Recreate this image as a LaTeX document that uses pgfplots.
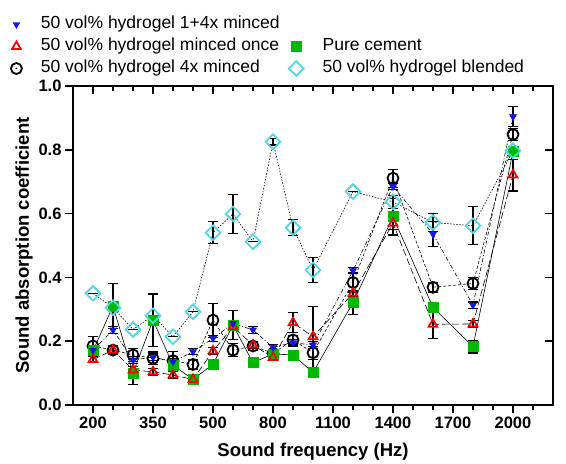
\documentclass[border=0pt]{standalone}
\usepackage{fontspec}
\setmainfont{Liberation Sans}
\usepackage{pgfplots}
\usepackage{pgfplotstable}
\pgfplotsset{compat=1.18}
\definecolor{cblue}{RGB}{20,20,230}
\definecolor{cred}{RGB}{255,0,0}
\definecolor{cgreen}{RGB}{0,185,0}
\definecolor{ccyan}{RGB}{80,215,225}
\pgfdeclareplotmark{odot}{%
  \pgfpathcircle{\pgfpointorigin}{\pgfplotmarksize}\pgfusepathqstroke
  \pgfpathcircle{\pgfpointorigin}{0.18\pgfplotmarksize}\pgfusepathqfill}

% x = index of frequency band (0 = 200 Hz ... 21 = 2000 Hz)
\pgfplotstableread{
x y e
0 0.172 0.01
1 0.235 0.01
2 0.141 0.01
3 0.150 0.01
4 0.136 0.01
5 0.167 0.01
6 0.209 0.01
7 0.256 0.01
8 0.235 0.01
9 0.181 0.01
10 0.195 0.01
11 0.188 0.01
13 0.421 0.01
15 0.685 0.01
17 0.536 0.038
19 0.313 0.01
21 0.904 0.031
}\blueT
\pgfplotstableread{
x y e
0 0.143 0.01
1 0.172 0.01
2 0.110 0.01
3 0.104 0.01
4 0.094 0.01
5 0.080 0.01
6 0.169 0.01
7 0.245 0.01
8 0.188 0.01
9 0.149 0.01
10 0.258 0.032
11 0.214 0.096
13 0.350 0.01
15 0.570 0.02
17 0.253 0.044
19 0.254 0.01
21 0.721 0.05
}\redT
\pgfplotstableread{
x y e
0 0.170 0.01
1 0.310 0.07
2 0.100 0.037
3 0.266 0.082
4 0.125 0.01
5 0.080 0.01
6 0.128 0.01
7 0.250 0.045
8 0.133 0.01
9 0.160 0.01
10 0.157 0.01
11 0.102 0.01
13 0.321 0.036
15 0.590 0.057
17 0.306 0.01
19 0.183 0.02
21 0.795 0.01
}\greenT
\pgfplotstableread{
x y e
0 0.185 0.03
1 0.172 0.015
2 0.157 0.02
3 0.146 0.02
4 0.139 0.028
5 0.127 0.015
6 0.266 0.053
7 0.172 0.02
8 0.185 0.015
9 0.162 0.01
10 0.204 0.015
11 0.164 0.02
13 0.384 0.03
15 0.711 0.028
17 0.369 0.015
19 0.381 0.02
21 0.848 0.02
}\circT
\pgfplotstableread{
x y e
0 0.350 0
1 0.305 0
2 0.237 0
3 0.280 0
4 0.214 0
5 0.292 0
6 0.540 0.035
7 0.599 0.06
8 0.512 0
9 0.825 0.01
10 0.556 0.025
11 0.423 0.04
13 0.669 0
15 0.637 0.02
17 0.572 0.028
19 0.562 0.06
21 0.797 0.01
}\diaT

\begin{document}
\begin{tikzpicture}
\pgfplotsset{
  myaxis/.style={
    at={(73pt,59pt)}, anchor=south west,
    width=480pt, height=319pt, scale only axis,
    xmin=-1, xmax=23, ymin=0, ymax=1,
    xtick={0,3,...,21}, minor xtick={0,...,22},
    ytick={0,0.2,...,1.01},
    major tick length=8pt, minor tick length=5pt,
    axis line style={line width=1.6pt},
    every tick/.style={black, line width=1.6pt},
  },
  eb/.style={error bars/y dir=both, error bars/y explicit,
    error bars/error bar style={black, line width=1.1pt, solid},
    error bars/error mark options={rotate=90, mark size=5pt, black, line width=1.1pt, solid}},
}
\begin{axis}[myaxis,
  xtick pos=left, ytick pos=left, tick align=outside,
  xticklabels={200,350,500,800,1100,1400,1700,2000},
  yticklabel style={/pgf/number format/.cd, fixed, fixed zerofill, precision=1},
  /pgf/number format/assume math mode=true,
  tick label style={font=\bfseries\fontsize{16.5}{19}\selectfont},
  xlabel={Sound frequency (Hz)},
  ylabel={Sound absorption coefficient},
  every axis x label/.style={at={(axis description cs:0.5,-0.147)}, anchor=center,
    font=\bfseries\fontsize{18.5}{22}\selectfont},
  every axis y label/.style={at={(axis description cs:-0.102,0.5)}, rotate=90, anchor=center,
    font=\bfseries\fontsize{18.5}{22}\selectfont},
  legend columns=2,
  legend cell align=left,
  legend style={at={(axis description cs:-0.136,1.231)}, anchor=north west,
    draw=none, fill=none, font=\fontsize{17.5}{20}\selectfont,
    nodes={text height=12pt, text depth=4pt, inner sep=2pt},
    row sep=2pt,
    /tikz/column 1/.style={column sep=17pt},
    /tikz/column 2/.style={column sep=6pt},
    /tikz/column 3/.style={column sep=17pt}},
]
\addplot[black, line width=0.6pt, dash pattern=on 3pt off 2pt, eb,
  mark=odot, mark size=5.5pt, mark options={solid, black, line width=1.8pt}, forget plot]
  table[x=x, y=y, y error=e]{\circT};
\addplot[black, line width=0.6pt, solid, eb,
  mark=square*, mark size=5pt, mark options={solid, cgreen, fill=cgreen}, forget plot]
  table[x=x, y=y, y error=e]{\greenT};
\addplot[black, line width=0.6pt, dash pattern=on 7pt off 3pt, eb,
  mark=triangle, mark size=5pt, mark options={solid, cred, line width=1.8pt}, forget plot]
  table[x=x, y=y, y error=e]{\redT};
\addplot[black, line width=0.6pt, dash pattern=on 4pt off 2pt on 1pt off 2pt, eb,
  mark=triangle*, mark size=4pt, mark options={solid, cblue, fill=cblue, rotate=180}, forget plot]
  table[x=x, y=y, y error=e]{\blueT};
\addplot[black, line width=0.6pt, dash pattern=on 1.5pt off 1.5pt, eb,
  mark=square, mark size=5.2pt, mark options={solid, ccyan, line width=1.8pt, rotate=45}, forget plot]
  table[x=x, y=y, y error=e]{\diaT};

\addlegendimage{only marks, mark=triangle*, mark size=4pt, mark options={cblue, fill=cblue, rotate=180}}
\addlegendentry{50 vol\% hydrogel 1+4x minced}
\addlegendimage{empty legend}
\addlegendentry{}
\addlegendimage{only marks, mark=triangle, mark size=5pt, mark options={cred, line width=1.8pt}}
\addlegendentry{50 vol\% hydrogel minced once}
\addlegendimage{only marks, mark=square*, mark size=5pt, mark options={cgreen, fill=cgreen}}
\addlegendentry{Pure cement}
\addlegendimage{only marks, mark=odot, mark size=5.5pt, mark options={black, line width=1.8pt}}
\addlegendentry{50 vol\% hydrogel 4x minced}
\addlegendimage{only marks, mark=square, mark size=5.2pt, mark options={ccyan, line width=1.8pt, rotate=45}}
\addlegendentry{50 vol\% hydrogel blended}
\end{axis}
\begin{axis}[myaxis,
  xtick pos=right, ytick pos=right, tick align=inside,
  xticklabels={}, yticklabels={},
]
\end{axis}
\pgfresetboundingbox
\path (0,0) rectangle (566pt,464pt);
\end{tikzpicture}
\end{document}
